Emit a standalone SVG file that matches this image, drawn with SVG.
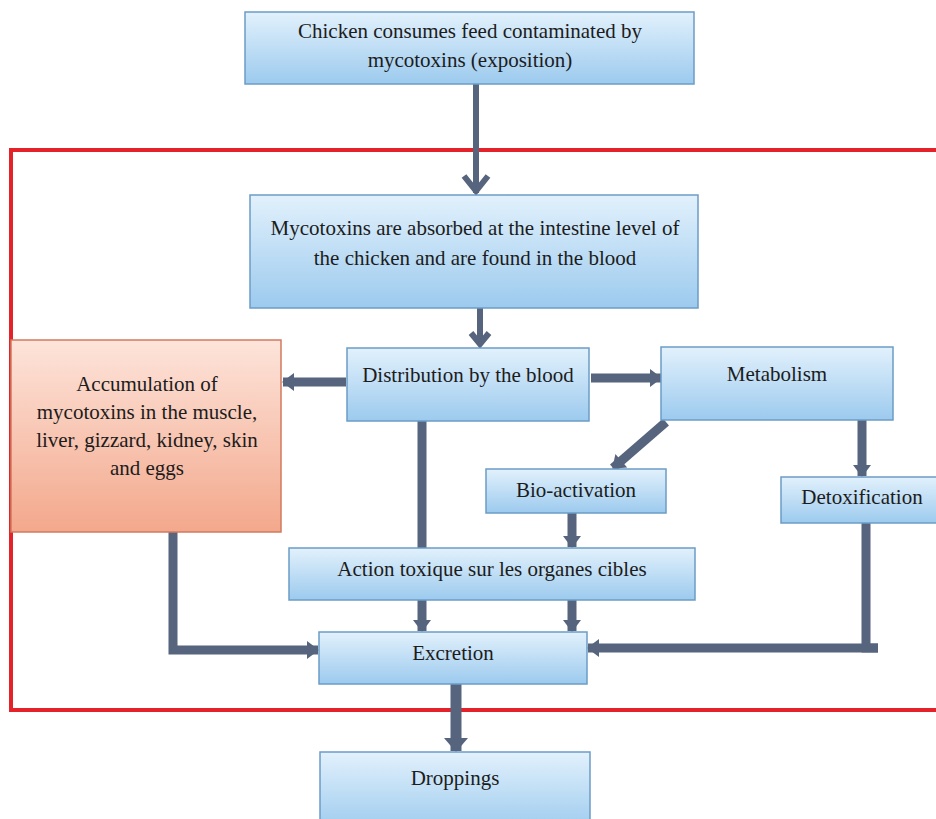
<svg xmlns="http://www.w3.org/2000/svg" width="936" height="819" viewBox="0 0 936 819">
<defs>
<linearGradient id="gBlue" x1="0" y1="0" x2="0" y2="1">
<stop offset="0" stop-color="#e2f1fc"/>
<stop offset="1" stop-color="#9ccaee"/>
</linearGradient>
<linearGradient id="gSalmon" x1="0" y1="0" x2="0" y2="1">
<stop offset="0" stop-color="#fde4da"/>
<stop offset="1" stop-color="#f3a88c"/>
</linearGradient>
<marker id="head" markerUnits="userSpaceOnUse" markerWidth="20" markerHeight="20" viewBox="0 0 12 20" refX="11" refY="10" orient="auto">
<path d="M0,1 L12,10 L0,19 Z" fill="#56647e"/>
</marker>
<marker id="headL" markerUnits="userSpaceOnUse" markerWidth="26" markerHeight="26" viewBox="0 0 14 26" refX="13" refY="13" orient="auto">
<path d="M0,1 L14,13 L0,25 Z" fill="#56647e"/>
</marker>
</defs>
<style>
.blue{fill:url(#gBlue);stroke:#6b9cc6;stroke-width:1.5}
.salmon{fill:url(#gSalmon);stroke:#d27a5e;stroke-width:1.5}
text{font-family:"Liberation Serif","Times New Roman",serif;font-size:21px;fill:#1c1c1c;text-anchor:middle}
.c{fill:none;stroke:#56647e;stroke-linejoin:miter}
.w{stroke-width:9}
.chev{fill:none;stroke:#56647e;stroke-width:6;stroke-linecap:butt}
</style>
<rect width="936" height="819" fill="#ffffff"/>
<rect id="frame" x="11" y="150" width="945" height="560" fill="none" stroke="#e3222a" stroke-width="4"/>

<g id="connectors">
<line class="c" x1="476" y1="84" x2="476" y2="193" stroke-width="6"/>
<polyline class="chev" points="464,176 476,191 488,176"/>
<line class="c" x1="480" y1="308" x2="480" y2="345" stroke-width="6"/>
<polyline class="chev" points="471,333 480,344 489,333"/>
<line class="c w" x1="346" y1="382" x2="283" y2="382" marker-end="url(#head)"/>
<line class="c w" x1="591" y1="378" x2="661" y2="378" marker-end="url(#head)"/>
<line class="c w" x1="666" y1="422" x2="613" y2="468" marker-end="url(#head)"/>
<line class="c w" x1="862" y1="420" x2="862" y2="476" marker-end="url(#head)"/>
<line class="c w" x1="422" y1="420" x2="422" y2="548"/>
<line class="c w" x1="572" y1="513" x2="572" y2="547" marker-end="url(#head)"/>
<line class="c w" x1="422" y1="600" x2="422" y2="631" marker-end="url(#head)"/>
<line class="c w" x1="572" y1="600" x2="572" y2="631" marker-end="url(#head)"/>
<polyline class="c w" points="173,532 173,650 318,650" marker-end="url(#head)"/>
<polyline class="c w" points="866,523 866,648 878,648"/>
<line class="c w" x1="878" y1="648" x2="588" y2="648" marker-end="url(#head)"/>
<line class="c" x1="456" y1="684" x2="456" y2="751" stroke-width="11" marker-end="url(#headL)"/>
</g>

<g id="n-feed">
<rect class="blue" x="245" y="12" width="449" height="72"/>
<text x="470" y="38">Chicken consumes feed contaminated by</text>
<text x="470" y="67">mycotoxins (exposition)</text>
</g>
<g id="n-absorbed">
<rect class="blue" x="250" y="195" width="448" height="113"/>
<text x="475" y="235">Mycotoxins are absorbed at the intestine level of</text>
<text x="475" y="265">the chicken and are found in the blood</text>
</g>
<g id="n-distribution">
<rect class="blue" x="347" y="348" width="242" height="73"/>
<text x="468" y="382">Distribution by the blood</text>
</g>
<g id="n-accumulation">
<rect class="salmon" x="11" y="340" width="270" height="192"/>
<text x="147" y="391">Accumulation of</text>
<text x="147" y="419">mycotoxins in the muscle,</text>
<text x="147" y="447">liver, gizzard, kidney, skin</text>
<text x="147" y="475">and eggs</text>
</g>
<g id="n-metabolism">
<rect class="blue" x="661" y="347" width="232" height="73"/>
<text x="777" y="381">Metabolism</text>
</g>
<g id="n-bioactivation">
<rect class="blue" x="486" y="469" width="180" height="44"/>
<text x="576" y="497">Bio-activation</text>
</g>
<g id="n-detox">
<rect class="blue" x="781" y="477" width="160" height="46"/>
<text x="862" y="504">Detoxification</text>
</g>
<g id="n-action">
<rect class="blue" x="289" y="548" width="406" height="52"/>
<text x="492" y="576">Action toxique sur les organes cibles</text>
</g>
<g id="n-excretion">
<rect class="blue" x="319" y="632" width="268" height="52"/>
<text x="453" y="660">Excretion</text>
</g>
<g id="n-droppings">
<rect class="blue" x="320" y="752" width="270" height="80"/>
<text x="455" y="785">Droppings</text>
</g>
</svg>
